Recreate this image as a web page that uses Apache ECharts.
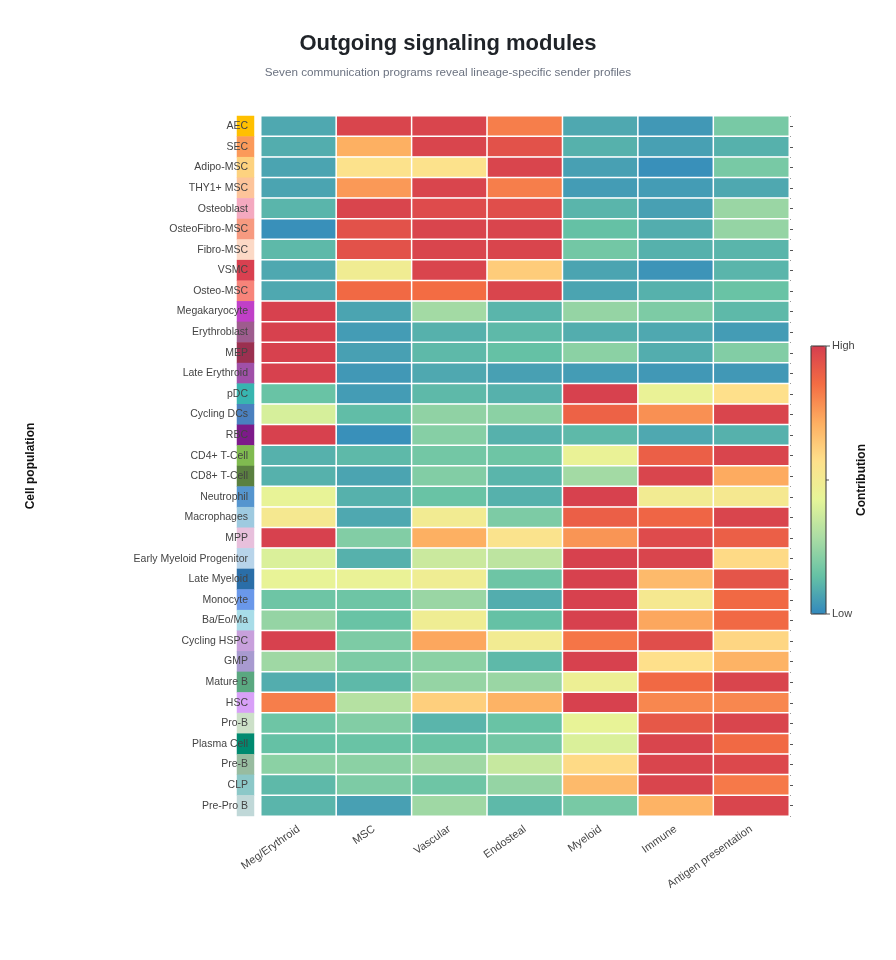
<!DOCTYPE html>
<html><head><meta charset="utf-8">
<script src="https://cdn.jsdelivr.net/npm/echarts@6/dist/echarts.min.js"></script>
<style>html,body{margin:0;padding:0;background:#fff}#c{width:896px;height:960px}</style>
</head><body><div id="c"></div>
<script>
const cellTypes = ["AEC","SEC","Adipo-MSC","THY1+ MSC","Osteoblast","OsteoFibro-MSC","Fibro-MSC","VSMC","Osteo-MSC","Megakaryocyte","Erythroblast","MEP","Late Erythroid","pDC","Cycling DCs","RBC","CD4+ T-Cell","CD8+ T-Cell","Neutrophil","Macrophages","MPP","Early Myeloid Progenitor","Late Myeloid","Monocyte","Ba/Eo/Ma","Cycling HSPC","GMP","Mature B","HSC","Pro-B","Plasma Cell","Pre-B","CLP","Pre-Pro B"];
const cellColors = ["#ffc000","#fb9a5a","#fdd27f","#fdc49a","#f4a9c0","#f79a80","#fcd9c6","#d94050","#f7847a","#c040c8","#9e5c8e","#9b3050","#a050a8","#38b5b0","#4a80bf","#7d1a8a","#80bb50","#5a8040","#5595cf","#9ecae0","#e8c0dc","#b8d4ea","#2a6ea8","#6a98ea","#a8dce8","#c8a0dc","#a89ad0","#5aa880","#d8a0f8","#cce0c8","#008a70","#98bca0","#8cc8c8","#c0d8d8"];
const modules = ["Meg/Erythroid","MSC","Vascular","Endosteal","Myeloid","Immune","Antigen presentation"];
const megEry   = [0.08,0.09,0.07,0.07,0.11,0.02,0.12,0.08,0.08,0.99,0.99,0.99,0.99,0.15,0.39,0.99,0.10,0.10,0.44,0.52,0.99,0.40,0.44,0.16,0.24,0.99,0.26,0.09,0.82,0.16,0.14,0.22,0.12,0.11];
const msc      = [0.98,0.71,0.56,0.76,0.98,0.94,0.94,0.49,0.87,0.07,0.05,0.06,0.04,0.05,0.13,0.02,0.12,0.07,0.10,0.08,0.20,0.10,0.45,0.16,0.15,0.19,0.19,0.12,0.31,0.20,0.15,0.22,0.19,0.06];
const vascular = [0.98,0.98,0.56,0.98,0.96,0.98,0.98,0.98,0.86,0.27,0.10,0.12,0.08,0.12,0.23,0.21,0.17,0.20,0.15,0.50,0.71,0.36,0.48,0.25,0.48,0.73,0.22,0.24,0.62,0.11,0.15,0.26,0.16,0.26];
const endosteal= [0.82,0.94,0.98,0.82,0.95,0.98,0.98,0.63,0.98,0.11,0.12,0.14,0.06,0.10,0.22,0.10,0.16,0.11,0.10,0.19,0.55,0.33,0.16,0.09,0.14,0.50,0.12,0.25,0.70,0.15,0.17,0.35,0.24,0.12];
const myeloid  = [0.08,0.10,0.06,0.05,0.11,0.14,0.17,0.07,0.07,0.24,0.09,0.22,0.05,0.99,0.89,0.12,0.45,0.27,0.99,0.90,0.77,0.99,0.99,0.99,0.99,0.84,0.99,0.47,0.99,0.44,0.40,0.59,0.68,0.18];
const immune   = [0.04,0.06,0.02,0.05,0.06,0.09,0.10,0.03,0.10,0.19,0.08,0.09,0.04,0.45,0.78,0.08,0.90,0.98,0.50,0.88,0.96,0.98,0.68,0.52,0.73,0.95,0.57,0.87,0.80,0.92,0.98,0.98,0.98,0.70];
const antigen  = [0.18,0.10,0.18,0.08,0.25,0.24,0.11,0.11,0.15,0.12,0.05,0.20,0.04,0.57,0.98,0.10,0.98,0.72,0.52,0.98,0.90,0.59,0.93,0.87,0.87,0.60,0.70,0.98,0.80,0.98,0.87,0.97,0.83,0.98];
const columns = [megEry, msc, vascular, endosteal, myeloid, immune, antigen];
const palette = ['#3288bd','#66c2a5','#abdda4','#e6f598','#fee08b','#fdae61','#f46d43','#d53e4f'];

const heatData = [];
columns.forEach((col, xi) => col.forEach((v, yi) => heatData.push([xi, yi, v])));
const stripData = cellTypes.map((n, yi) => ({value: [0, yi, 1], itemStyle: {color: cellColors[yi]}}));

const FONT = '"Liberation Sans", Arial, Helvetica, sans-serif';
const chart = echarts.init(document.getElementById('c'));
chart.setOption({
  backgroundColor: '#fff',
  textStyle: {fontFamily: FONT},
  title: {
    text: 'Outgoing signaling modules',
    subtext: 'Seven communication programs reveal lineage-specific sender profiles',
    left: 'center', top: 28, itemGap: 12,
    textStyle: {fontSize: 22, fontWeight: 'bold', color: '#1f2328', fontFamily: FONT},
    subtextStyle: {fontSize: 11.7, color: '#6b7280', fontFamily: FONT}
  },
  grid: [
    {left: 261, right: 107, top: 116, bottom: 144},
    {left: 237, width: 17, top: 116, bottom: 144}
  ],
  xAxis: [
    {type: 'category', data: modules, gridIndex: 0, position: 'bottom',
     axisLine: {show: false}, axisTick: {show: false}, splitLine: {show: false},
     axisLabel: {rotate: 35, color: '#444', fontSize: 11, margin: 12, interval: 0}},
    {type: 'category', data: ['c'], gridIndex: 1, show: false}
  ],
  yAxis: [
    {type: 'category', data: cellTypes, gridIndex: 0, inverse: true, z: 10,
     axisLine: {show: false}, axisTick: {show: false},
     axisLabel: {color: '#444', fontSize: 10.5, margin: 13, interval: 0},
     name: 'Cell population', nameLocation: 'middle', nameGap: 224,
     nameTextStyle: {fontWeight: 'bold', fontSize: 12, color: '#111'}},
    {type: 'category', data: cellTypes, gridIndex: 0, inverse: true, position: 'right',
     axisLine: {show: false}, axisLabel: {show: false},
     axisTick: {show: true, alignWithLabel: true, length: 4, lineStyle: {color: '#555'}}},
    {type: 'category', data: cellTypes, gridIndex: 0, inverse: true, position: 'right',
     axisLine: {show: false}, axisLabel: {show: false},
     axisTick: {show: true, length: 2, lineStyle: {color: '#999'}}},
    {type: 'category', data: cellTypes, gridIndex: 1, inverse: true, show: false}
  ],
  visualMap: {
    type: 'continuous', min: 0, max: 1, seriesIndex: 0, calculable: false,
    orient: 'vertical', left: 811, top: 346, itemWidth: 15, itemHeight: 268,
    padding: 0, text: null, showLabel: false,
    inRange: {color: palette}
  },
  graphic: [
    {type: 'rect', shape: {x: 811, y: 346, width: 15, height: 268}, style: {fill: 'none', stroke: '#333', lineWidth: 1}, z: 100},
    {type: 'line', shape: {x1: 826, y1: 480, x2: 829, y2: 480}, style: {stroke: '#555', lineWidth: 1}},
    {type: 'line', shape: {x1: 826, y1: 346, x2: 830, y2: 346}, style: {stroke: '#555', lineWidth: 1}},
    {type: 'line', shape: {x1: 826, y1: 614, x2: 830, y2: 614}, style: {stroke: '#555', lineWidth: 1}},
    {type: 'text', x: 832, y: 346, style: {text: 'High', fill: '#444', fontSize: 11, fontFamily: FONT, textVerticalAlign: 'middle', textAlign: 'left'}},
    {type: 'text', x: 832, y: 614, style: {text: 'Low', fill: '#444', fontSize: 11, fontFamily: FONT, textVerticalAlign: 'middle', textAlign: 'left'}},
    {type: 'text', x: 862, y: 480, rotation: Math.PI / 2, style: {text: 'Contribution', fill: '#111', fontSize: 12, fontWeight: 'bold', fontFamily: FONT, textAlign: 'center', textVerticalAlign: 'middle'}}
  ],
  series: [
    {type: 'heatmap', xAxisIndex: 0, yAxisIndex: 0, data: heatData,
     itemStyle: {borderColor: '#fff', borderWidth: 1.5}, emphasis: {disabled: true}},
    {type: 'heatmap', xAxisIndex: 1, yAxisIndex: 3, data: stripData, z: 1,
     itemStyle: {borderWidth: 0}, emphasis: {disabled: true}}
  ]
});
</script></body></html>
